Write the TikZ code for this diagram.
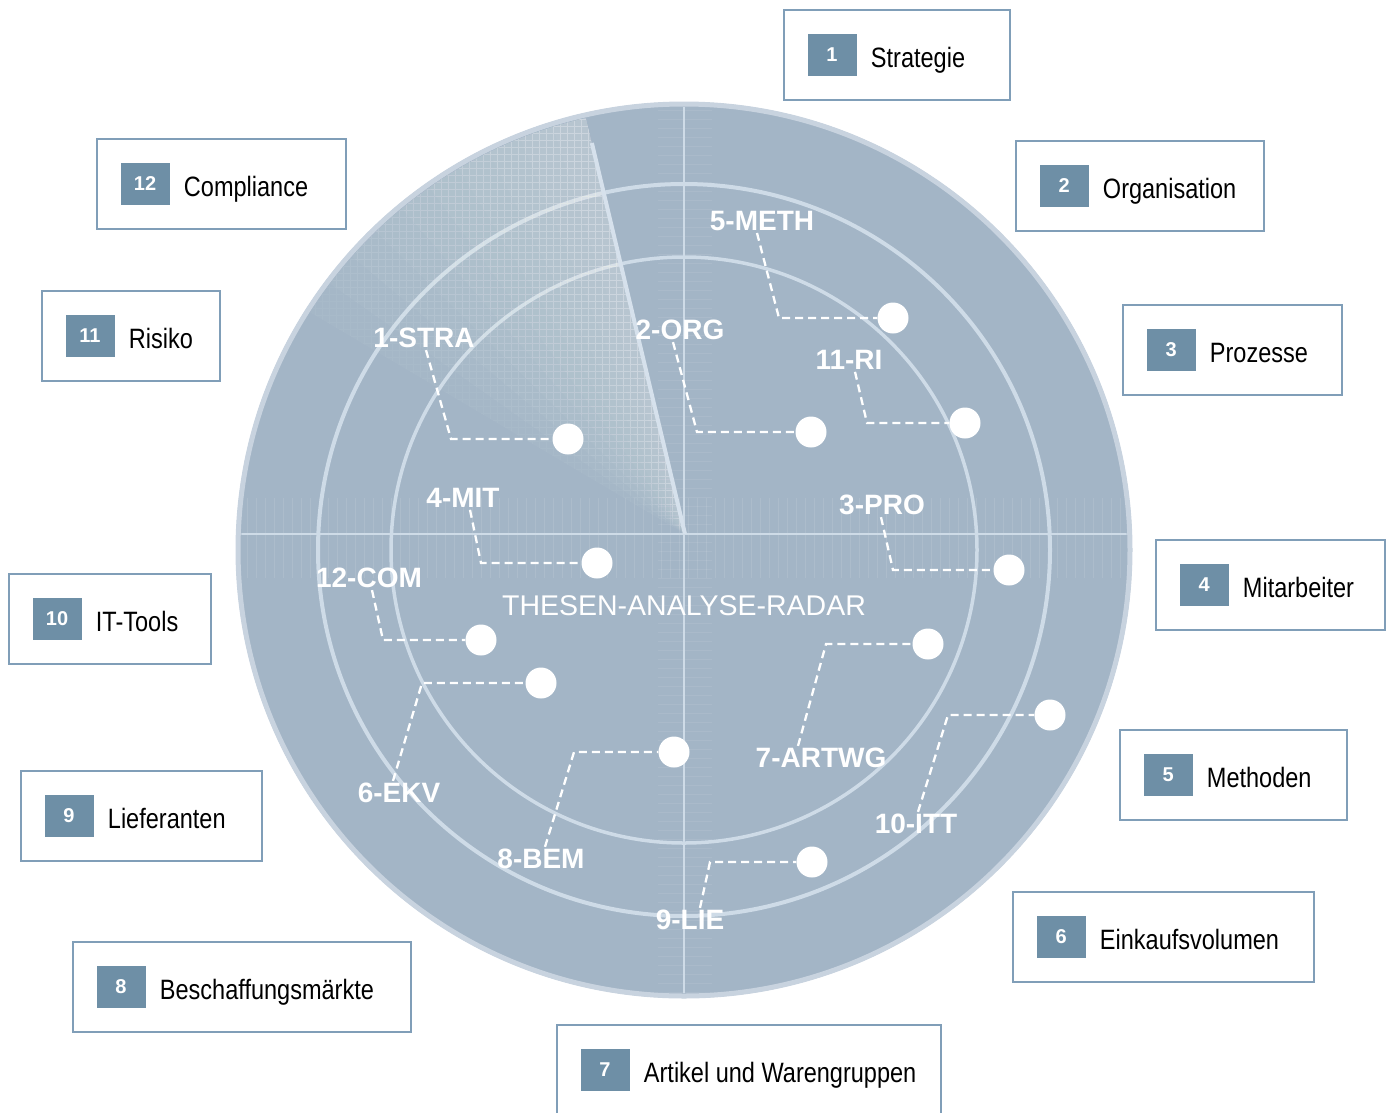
\documentclass[tikz,border=0pt]{standalone}
\usepackage{fontspec}
\setmainfont{Liberation Sans}
\newfontfamily\narrowfont[FakeStretch=0.84]{Liberation Sans}
\usepackage{tikz}
\usetikzlibrary{positioning,calc}
\definecolor{radarblue}{RGB}{163,181,198}
\definecolor{rimblue}{RGB}{200,211,223}
\definecolor{ringblue}{RGB}{206,219,231}
\definecolor{sweepblue}{RGB}{214,225,236}
\definecolor{keyblue}{RGB}{110,143,166}
\definecolor{frameblue}{RGB}{128,158,184}
\tikzstyle{legbox} = [draw=frameblue, line width=1.3pt, fill=white, rectangle, minimum height=90pt]
\tikzstyle{numbox} = [rectangle, fill=keyblue, text=white, minimum width=49pt, minimum height=42pt, inner sep=0pt, font=\fontsize{20}{22}\selectfont\bfseries]
\tikzstyle{legtext} = [inner sep=0pt, anchor=base west, font=\narrowfont\fontsize{28}{30}\selectfont]
\tikzstyle{radarlabel} = [text=white, inner sep=2pt, font=\fontsize{28}{30}\selectfont\bfseries]
\tikzstyle{blip} = [circle, fill=white, minimum size=31pt, inner sep=0pt]
\tikzstyle{link} = [draw=white, line width=2.3pt, dash pattern=on 8pt off 5pt]

\begin{document}
\begin{tikzpicture}[x=1pt, y=1pt]
    \useasboundingbox (0,0) rectangle (1390,-1112);
    \coordinate (C) at (684,-550);
    \coordinate (S) at (685,-534);

    % radar disk
    \fill[radarblue] (C) circle (448pt);
    \draw[rimblue, line width=5pt] (C) circle (446pt);
    \begin{scope}
        \clip (C) circle (443pt);
        \foreach \x in {238,247,...,1130} \draw[white, opacity=0.1, line width=1pt] (\x,-498) -- (\x,-578);
        \foreach \y in {-110,-119,...,-995} \draw[white, opacity=0.08, line width=1pt] (658,\y) -- (712,\y);
        \draw[ringblue, line width=2pt] (200,-534) -- (1170,-534);
        \draw[ringblue, line width=2pt] (684,-90) -- (684,-1010);
    \end{scope}
    \draw[ringblue, line width=4pt] (C) circle (366pt);
    \draw[ringblue, line width=3.5pt] (C) circle (293pt);

    % sweep
    \begin{scope}
        \clip (C) circle (443pt);
        \foreach \k in {1,...,10} {
            \begin{scope}
                \clip (S) -- ($(S)+(103.4:520)$) -- ($(S)+({103.4+4.6*\k}:520)$) -- cycle;
                \fill[white, opacity=0.03] (S) circle (520pt);
                \draw[white, opacity=0.045, step=7pt] (300,-90) grid (700,-540);
            \end{scope}
        }
    \end{scope}
    \draw[sweepblue, line width=4pt] (S) -- ($(S)+(103.4:402)$);

    \node[text=white, font=\fontsize{28.5}{30}\selectfont] (title) at (684,-606) {THESEN-ANALYSE-RADAR};

    % blips
    \node[blip] (d1) at (568,-439) {};
    \node[blip] (d2) at (811,-432) {};
    \node[blip] (d3) at (1009,-570) {};
    \node[blip] (d4) at (597,-563) {};
    \node[blip] (d5) at (893,-318) {};
    \node[blip] (d6) at (541,-683) {};
    \node[blip] (d7) at (928,-644) {};
    \node[blip] (d8) at (674,-752) {};
    \node[blip] (d9) at (812,-862) {};
    \node[blip] (d10) at (1050,-715) {};
    \node[blip] (d11) at (965,-423) {};
    \node[blip] (d12) at (481,-640) {};

    % labels
    \node[radarlabel] (l1) at (424,-338) {1-STRA};
    \node[radarlabel] (l2) at (680,-330) {2-ORG};
    \node[radarlabel] (l3) at (882,-505) {3-PRO};
    \node[radarlabel] (l4) at (463,-498) {4-MIT};
    \node[radarlabel] (l5) at (762,-221) {5-METH};
    \node[radarlabel] (l6) at (399,-793) {6-EKV};
    \node[radarlabel] (l7) at (821,-758) {7-ARTWG};
    \node[radarlabel] (l8) at (541,-859) {8-BEM};
    \node[radarlabel] (l9) at (690,-920) {9-LIE};
    \node[radarlabel] (l10) at (916,-824) {10-ITT};
    \node[radarlabel] (l11) at (849,-360) {11-RI};
    \node[radarlabel] (l12) at (369,-578) {12-COM};

    % bends
    \coordinate (b1) at (451,-439);
    \coordinate (b2) at (697,-432);
    \coordinate (b3) at (893,-570);
    \coordinate (b4) at (481,-563);
    \coordinate (b5) at (779,-318);
    \coordinate (b6) at (422,-683);
    \coordinate (b7) at (826,-644);
    \coordinate (b8) at (574,-752);
    \coordinate (b9) at (710,-862);
    \coordinate (b10) at (948,-715);
    \coordinate (b11) at (867,-423);
    \coordinate (b12) at (383,-640);

    \path[link] ([xshift=2pt]l1.south) -- (b1) -- (d1.west);
    \path[link] ([xshift=-7pt]l2.south) -- (b2) -- (d2.west);
    \path[link] ([xshift=-1pt]l3.south) -- (b3) -- (d3.west);
    \path[link] ([xshift=7pt]l4.south) -- (b4) -- (d4.west);
    \path[link] ([xshift=-5pt]l5.south) -- (b5) -- (d5.west);
    \path[link] ([xshift=-6pt]l6.north) -- (b6) -- (d6.west);
    \path[link] ([xshift=-23pt]l7.north) -- (b7) -- (d7.west);
    \path[link] ([xshift=4pt]l8.north) -- (b8) -- (d8.west);
    \path[link] ([xshift=10pt]l9.north) -- (b9) -- (d9.west);
    \path[link] ([xshift=2pt]l10.north) -- (b10) -- (d10.west);
    \path[link] ([xshift=6pt]l11.south) -- (b11) -- (d11.west);
    \path[link] ([xshift=3pt]l12.south) -- (b12) -- (d12.west);

    % legend
    \node[legbox, minimum width=226pt] (k1) at (897,-55) {};
    \node[numbox, anchor=west] (n1) at ([xshift=24pt]k1.west) {1};
    \node[legtext] (t1) at ([xshift=14pt,yshift=-12.5pt]n1.east) {Strategie};

    \node[legbox, minimum width=248pt] (k2) at (1140,-186) {};
    \node[numbox, anchor=west] (n2) at ([xshift=24pt]k2.west) {2};
    \node[legtext] (t2) at ([xshift=14pt,yshift=-12.5pt]n2.east) {Organisation};

    \node[legbox, minimum width=219pt] (k3) at (1232.5,-350) {};
    \node[numbox, anchor=west] (n3) at ([xshift=24pt]k3.west) {3};
    \node[legtext] (t3) at ([xshift=14pt,yshift=-12.5pt]n3.east) {Prozesse};

    \node[legbox, minimum width=229pt] (k4) at (1270.5,-585) {};
    \node[numbox, anchor=west] (n4) at ([xshift=24pt]k4.west) {4};
    \node[legtext] (t4) at ([xshift=14pt,yshift=-12.5pt]n4.east) {Mitarbeiter};

    \node[legbox, minimum width=227pt] (k5) at (1233.5,-775) {};
    \node[numbox, anchor=west] (n5) at ([xshift=24pt]k5.west) {5};
    \node[legtext] (t5) at ([xshift=14pt,yshift=-12.5pt]n5.east) {Methoden};

    \node[legbox, minimum width=301pt] (k6) at (1163.5,-937) {};
    \node[numbox, anchor=west] (n6) at ([xshift=24pt]k6.west) {6};
    \node[legtext] (t6) at ([xshift=14pt,yshift=-12.5pt]n6.east) {Einkaufsvolumen};

    \node[legbox, minimum width=384pt] (k7) at (749,-1070) {};
    \node[numbox, anchor=west] (n7) at ([xshift=24pt]k7.west) {7};
    \node[legtext] (t7) at ([xshift=14pt,yshift=-12.5pt]n7.east) {Artikel und Warengruppen};

    \node[legbox, minimum width=338pt] (k8) at (242,-987) {};
    \node[numbox, anchor=west] (n8) at ([xshift=24pt]k8.west) {8};
    \node[legtext] (t8) at ([xshift=14pt,yshift=-12.5pt]n8.east) {Beschaffungsmärkte};

    \node[legbox, minimum width=241pt] (k9) at (141.5,-816) {};
    \node[numbox, anchor=west] (n9) at ([xshift=24pt]k9.west) {9};
    \node[legtext] (t9) at ([xshift=14pt,yshift=-12.5pt]n9.east) {Lieferanten};

    \node[legbox, minimum width=202pt] (k10) at (110,-619) {};
    \node[numbox, anchor=west] (n10) at ([xshift=24pt]k10.west) {10};
    \node[legtext] (t10) at ([xshift=14pt,yshift=-12.5pt]n10.east) {IT-Tools};

    \node[legbox, minimum width=178pt] (k11) at (131,-336) {};
    \node[numbox, anchor=west] (n11) at ([xshift=24pt]k11.west) {11};
    \node[legtext] (t11) at ([xshift=14pt,yshift=-12.5pt]n11.east) {Risiko};

    \node[legbox, minimum width=249pt] (k12) at (221.5,-184) {};
    \node[numbox, anchor=west] (n12) at ([xshift=24pt]k12.west) {12};
    \node[legtext] (t12) at ([xshift=14pt,yshift=-12.5pt]n12.east) {Compliance};
\end{tikzpicture}
\end{document}
